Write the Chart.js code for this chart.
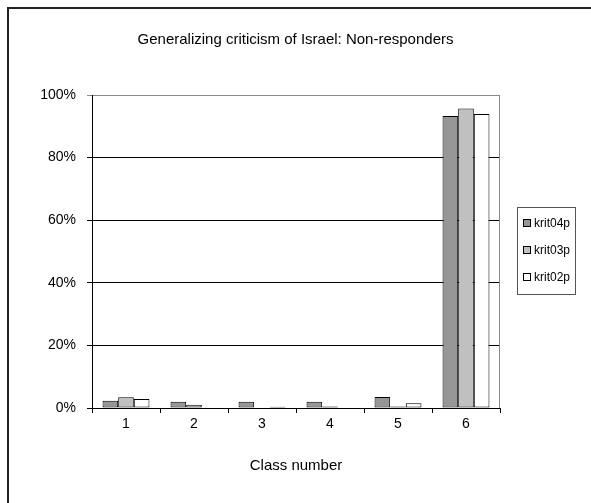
<!DOCTYPE html>
<html><head><meta charset="utf-8">
<script src="https://cdn.jsdelivr.net/npm/chart.js@4"></script>
<style>html,body{margin:0;padding:0;background:#fff;overflow:hidden}
canvas{display:block}
</style></head><body>
<canvas id="c" width="591" height="503"></canvas>
<script>
const categories = ['1', '2', '3', '4', '5', '6'];
const krit04p = [2.3, 2.0, 2.0, 2.0, 3.5, 93.3];
const krit03p = [3.4, 1.0, 0, 0.5, 0.5, 95.7];
const krit02p = [2.9, 0, 0.4, 0, 1.5, 93.9];
const seriesNames = ['krit04p', 'krit03p', 'krit02p'];
const yTicks = [0, 20, 40, 60, 80, 100];
const titleText = 'Generalizing criticism of Israel: Non-responders';
const xTitle = 'Class number';

const FONT = "'Liberation Sans', Arial, sans-serif";
const colors = ['#969696', '#c0c0c0', '#ffffff'];

const decor = {
  id: 'decor',
  beforeDraw(chart) {
    const ctx = chart.ctx;
    ctx.save();
    ctx.fillStyle = '#fff';
    ctx.fillRect(0, 0, chart.width, chart.height);
    ctx.fillStyle = '#222';
    ctx.fillRect(7, 7, 2, chart.height - 7);
    ctx.fillRect(7, 7, chart.width - 7, 2);
    ctx.restore();
  },
  afterDraw(chart) {
    const ctx = chart.ctx;
    const a = chart.chartArea;
    ctx.save();
    ctx.strokeStyle = '#888';
    ctx.lineWidth = 1;
    ctx.beginPath();
    ctx.moveTo(Math.round(a.right) - 0.5, a.top);
    ctx.lineTo(Math.round(a.right) - 0.5, a.bottom);
    ctx.stroke();
    // legend
    const lx = 517, ly = 207, lw = 58, lh = 87;
    ctx.strokeStyle = '#555';
    ctx.strokeRect(lx + 0.5, ly + 0.5, lw, lh);
    ctx.font = '12px ' + FONT;
    ctx.textBaseline = 'middle';
    chart.data.datasets.forEach((ds, i) => {
      const cy = ly + 16 + i * 27;
      ctx.fillStyle = ds.backgroundColor;
      ctx.fillRect(523, cy - 4, 8, 8);
      ctx.strokeStyle = '#000';
      ctx.strokeRect(523.5, cy - 3.5, 7, 7);
      ctx.fillStyle = '#000';
      ctx.fillText(ds.label, 534, cy + 1);
    });
    ctx.restore();
  }
};

new Chart(document.getElementById('c'), {
  type: 'bar',
  data: {
    labels: categories,
    datasets: [
      { label: seriesNames[0], data: krit04p, backgroundColor: colors[0] },
      { label: seriesNames[1], data: krit03p, backgroundColor: colors[1] },
      { label: seriesNames[2], data: krit02p, backgroundColor: colors[2] }
    ]
  },
  options: {
    responsive: false,
    animation: false,
    devicePixelRatio: 1,
    layout: { padding: 0 },
    datasets: {
      bar: {
        borderColor: '#000',
        borderWidth: (c) => (c.raw ? 1 : 0),
        borderSkipped: false,
        categoryPercentage: 0.69,
        barPercentage: 1
      }
    },
    plugins: {
      legend: { display: false },
      tooltip: { enabled: false },
      title: {
        display: true,
        text: titleText,
        color: '#000',
        font: { family: FONT, size: 15, weight: 'normal' },
        padding: { top: 31, bottom: 46 }
      }
    },
    scales: {
      x: {
        afterFit: (s) => { s.height = 95; },
        grid: { display: true, drawOnChartArea: false, drawTicks: true, tickLength: 5, color: '#000', offset: true },
        border: { display: true, color: '#000', width: 1 },
        ticks: { color: '#000', font: { family: FONT, size: 14 }, padding: 3 },
        title: { display: true, text: xTitle, color: '#000', font: { family: FONT, size: 15 }, padding: { top: 0, bottom: 28 } }
      },
      y: {
        min: 0, max: 100,
        afterFit: (s) => { s.width = 92; },
        afterBuildTicks: (s) => { s.ticks = yTicks.map(v => ({ value: v })); },
        grid: { color: (c) => (c.tick && c.tick.value === 100 ? '#888' : '#000'), tickLength: 5 },
        border: { display: true, color: '#000', width: 1 },
        ticks: { color: '#000', font: { family: FONT, size: 14 }, padding: 11, callback: (v) => v + '%' }
      },
      side: {
        position: 'right',
        display: true,
        min: 0, max: 100,
        afterFit: (s) => { s.width = 91; },
        grid: { display: false, drawOnChartArea: false, drawTicks: false },
        border: { display: false },
        ticks: { display: false }
      }
    }
  },
  plugins: [decor]
});
</script>
</body></html>
